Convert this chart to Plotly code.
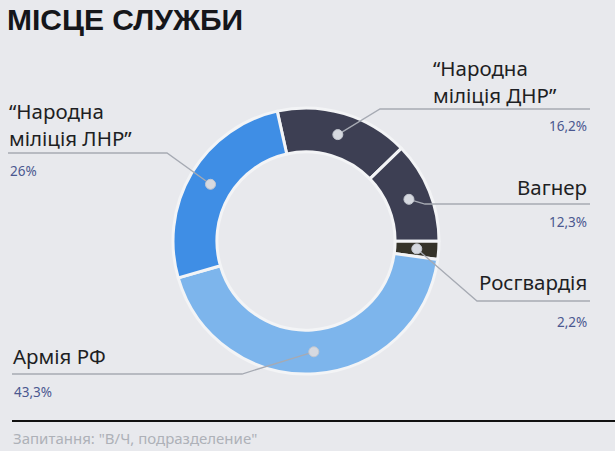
import math
import plotly.graph_objects as go

# ---- data ----
labels = ['"Народна міліція ДНР"', "Вагнер", "Росгвардія", "Армія РФ", '"Народна міліція ЛНР"']
label_text = ["“Народна<br>міліція ДНР”", "Вагнер", "Росгвардія", "Армія РФ", "“Народна<br>міліція ЛНР”"]
values = [16.2, 12.3, 2.2, 43.3, 26.0]
pct_labels = ["16,2%", "12,3%", "2,2%", "43,3%", "26%"]
colors = ["#3d3f53", "#3d3f53", "#36342a", "#7db5ec", "#3f8ee5"]

W, H = 615, 451
BG = "#e8e9ed"
ROT = -12.5
CX, CY, R = 306, 241, 133
HOLE = 0.67

fig = go.Figure()
fig.add_trace(go.Pie(
    labels=labels, values=values, sort=False, direction="clockwise",
    rotation=ROT, hole=HOLE, textinfo="none", hoverinfo="label+percent",
    marker=dict(colors=colors, line=dict(color="#f3f4f6", width=3)),
    domain=dict(x=[(CX - R) / W, (CX + R) / W], y=[1 - (CY + R) / H, 1 - (CY - R) / H]),
    showlegend=False,
))

# label layout: text pos, anchor, underline y, underline x-range, pct pos
layout_cfg = [
    dict(tx=431, ty=81, xa="left", uy=109, ux=(380, 590), px=589, py=126, pa="right"),
    dict(tx=589, ty=187, xa="right", uy=204, ux=(425, 590), px=589, py=222, pa="right"),
    dict(tx=589, ty=282, xa="right", uy=301, ux=(477, 590), px=589, py=322, pa="right"),
    dict(tx=11, ty=356, xa="left", uy=374, ux=(12, 242), px=12, py=392, pa="left"),
    dict(tx=7, ty=124, xa="left", uy=153, ux=(8, 167), px=8, py=171, pa="left"),
]

total = sum(values)
rm = R * (1 + HOLE) / 2
cum = 0.0
shapes = []
annotations = []
for i, v in enumerate(values):
    mid = ROT + (cum + v / 2) / total * 360
    cum += v
    a = math.radians(mid)
    dx, dy = CX + rm * math.sin(a), CY - rm * math.cos(a)
    c = layout_cfg[i]
    x1, x2 = c["ux"]
    if dx > x2:
        path = f"M {dx},{dy} L {x2},{c['uy']} L {x1},{c['uy']}"
    else:
        path = f"M {dx},{dy} L {x1},{c['uy']} L {x2},{c['uy']}"
    shapes.append(dict(type="path", xref="x", yref="y", path=path,
                       line=dict(color="#a6aab3", width=1.3)))
    shapes.append(dict(type="circle", xref="x", yref="y",
                       x0=dx - 5, x1=dx + 5, y0=dy - 5, y1=dy + 5,
                       fillcolor="#d6d9e0", line=dict(color="#c4c8d0", width=1)))
    annotations.append(dict(x=c["tx"], y=c["ty"], xref="x", yref="y", text=label_text[i],
                            showarrow=False, xanchor=c["xa"], yanchor="middle", align=c["xa"],
                            font=dict(family="Noto Sans, DejaVu Sans", size=20.5, color="#1e1f24")))
    annotations.append(dict(x=c["px"], y=c["py"], xref="x", yref="y", text=pct_labels[i],
                            showarrow=False, xanchor=c["pa"], yanchor="middle",
                            font=dict(family="Noto Sans, DejaVu Sans", size=13.5, color="#4b5890")))

# title, footer, rule
annotations.append(dict(x=5, y=19, xref="x", yref="y", text="<b>МІСЦЕ СЛУЖБИ</b>", showarrow=False,
                        xanchor="left", yanchor="middle",
                        font=dict(family="Liberation Sans, Arial", size=30, color="#15161a")))
annotations.append(dict(x=11, y=438, xref="x", yref="y", text='Запитання: "В/Ч, подразделение"',
                        showarrow=False, xanchor="left", yanchor="middle",
                        font=dict(family="Noto Sans, DejaVu Sans", size=15, color="#aeb1b8")))
shapes.append(dict(type="line", xref="x", yref="y", x0=12, x1=615, y0=421, y1=421,
                   line=dict(color="#111111", width=2.2)))

fig.update_layout(
    width=W, height=H, margin=dict(l=0, r=0, t=0, b=0),
    paper_bgcolor=BG, plot_bgcolor="rgba(0,0,0,0)",
    xaxis=dict(range=[0, W], visible=False, fixedrange=True),
    yaxis=dict(range=[H, 0], visible=False, fixedrange=True),
    shapes=shapes, annotations=annotations,
)
fig.write_html("out.html", config={"displayModeBar": False},
               post_script="document.body.style.margin='0';document.body.style.overflow='hidden';")
